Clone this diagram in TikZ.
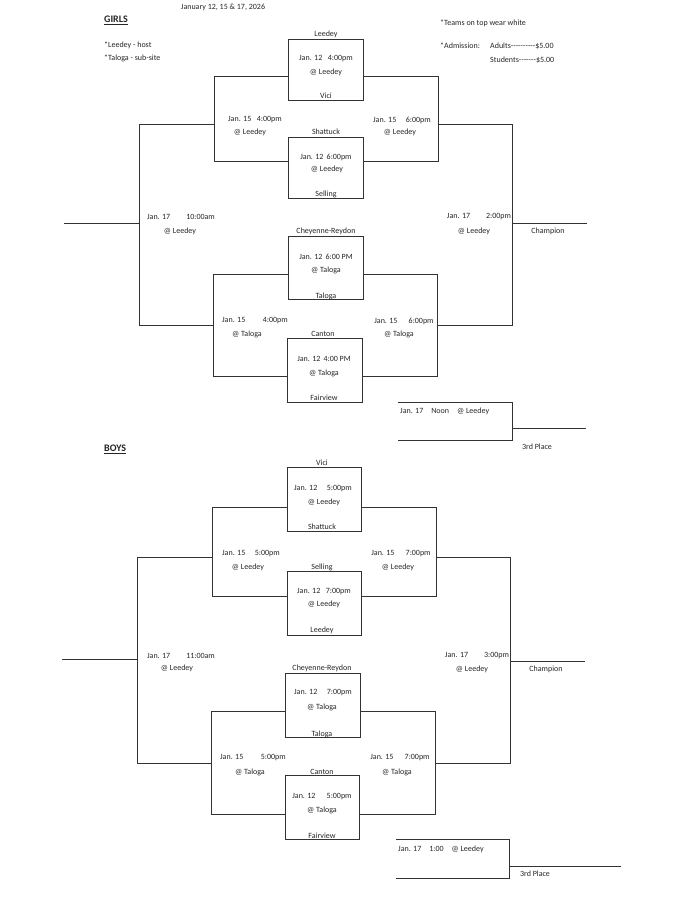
\documentclass[tikz,border=0pt]{standalone}
\usepackage{fontspec}
\setmainfont{Carlito}
\begin{document}
\begin{tikzpicture}[x=1pt,y=-1pt,
  ln/.style={draw=black!80, line width=0.8pt},
  box/.style={ln, rectangle, inner sep=0pt},
  t/.style={inner sep=0pt, font=\fontsize{8}{9}\selectfont, text=black!85},
  tl/.style={t, anchor=west}]
\useasboundingbox (0,0) rectangle (689,899);
\fill[white] (0,0) rectangle (689,899);

% ---------- header ----------
\node[t] (hdate) at (223,7) {January 12, 15 \& 17, 2026};
\node[tl, font=\fontsize{10}{11}\selectfont\bfseries] (hgirls) at (104,20) {\underline{GIRLS}};
\node[tl] (hhost) at (104,45) {*Leedey - host};
\node[tl] (hsub) at (104,58) {*Taloga - sub-site};
\node[tl] (hteams) at (440,23) {*Teams on top wear white};
\node[tl] (hadm) at (440,46) {*Admission:};
\node[tl] (hadult) at (490,46) {Adults{-}{-}{-}{-}{-}{-}{-}{-}{-}{-}\$5.00};
\node[tl] (hstud) at (490,60) {Students{-}{-}{-}{-}{-}{-}{-}\$5.00};

% ---------- GIRLS boxes ----------
\node[box, minimum width=75pt, minimum height=61pt] (g1) at (325.5,69.5) {};
\node[box, minimum width=75pt, minimum height=61pt] (g2) at (325.5,167.5) {};
\node[box, minimum width=75pt, minimum height=63pt] (g3) at (325.5,267.5) {};
\node[box, minimum width=75pt, minimum height=64pt] (g4) at (325,370) {};

\node[t] (g1a) at (326,34) {Leedey};
\node[t] (g1b) at (326,59) {Jan. 12\hspace{0.7em}4:00pm};
\node[t] (g1c) at (326,72) {@ Leedey};
\node[t] (g1d) at (326,96) {Vici};
\node[t] (g2a) at (326,132) {Shattuck};
\node[t] (g2b) at (326,157) {Jan. 12\hspace{0.4em}6:00pm};
\node[t] (g2c) at (327,169) {@ Leedey};
\node[t] (g2d) at (326,194) {Selling};
\node[t] (g3a) at (326,231) {Cheyenne-Reydon};
\node[t] (g3b) at (326,257) {Jan. 12\hspace{0.4em}6:00 PM};
\node[t] (g3c) at (326,270) {@ Taloga};
\node[t] (g3d) at (326,296) {Taloga};
\node[t] (g4a) at (323,334) {Canton};
\node[t] (g4b) at (324,359) {Jan. 12\hspace{0.4em}4:00 PM};
\node[t] (g4c) at (324,373) {@ Taloga};
\node[t] (g4d) at (324,398) {Fairview};

\node[t] (gq1a) at (255,120) {Jan. 15\hspace{0.7em}4:00pm};
\node[t] (gq1b) at (250,132) {@ Leedey};
\node[t] (gq2a) at (402,120) {Jan. 15\hspace{1.2em}6:00pm};
\node[t] (gq2b) at (400,132) {@ Leedey};
\node[t] (gq3a) at (255,321) {Jan. 15\hspace{2.2em}4:00pm};
\node[t] (gq3b) at (247,334) {@ Taloga};
\node[t] (gq4a) at (404,321) {Jan. 15\hspace{1.4em}6:00pm};
\node[t] (gq4b) at (399,334) {@ Taloga};
\node[t] (gs1a) at (181,217) {Jan. 17\hspace{2em}10:00am};
\node[t] (gs1b) at (180,231) {@ Leedey};
\node[t] (gs2a) at (479,217) {Jan. 17\hspace{2em}2:00pm};
\node[t] (gs2b) at (474,231) {@ Leedey};
\node[t] (gch) at (548,231) {Champion};
\node[tl] (g3p) at (400,411) {Jan. 17\hspace{1em}Noon\hspace{1em}@ Leedey};
\node[t] (g3pl) at (537,447) {3rd Place};

% GIRLS bracket coordinates
\coordinate (gUtl) at (214,76);  \coordinate (gUtr) at (438,76);
\coordinate (gUbl) at (214,161); \coordinate (gUbr) at (438,161);
\coordinate (gUml) at (214,124); \coordinate (gUmr) at (438,124);
\coordinate (gLtl) at (213,274); \coordinate (gLtr) at (437,274);
\coordinate (gLbl) at (213,376); \coordinate (gLbr) at (437,376);
\coordinate (gLml) at (213,325); \coordinate (gLmr) at (437,325);
\coordinate (gOtl) at (139,124); \coordinate (gObl) at (139,325);
\coordinate (gOtr) at (512,124); \coordinate (gObr) at (512,325);
\coordinate (gOml) at (139,223); \coordinate (gOmr) at (512,223);
\coordinate (gTail) at (64,223); \coordinate (gChamp) at (587,223);
\coordinate (g3tl) at (398,402); \coordinate (g3tr) at (512,402);
\coordinate (g3bl) at (398,440); \coordinate (g3br) at (512,440);
\coordinate (g3m) at (512,428);  \coordinate (g3end) at (586,428);

\draw[ln] (g1.west |- gUtl) -- (gUtl) -- (gUbl) -- (g2.west |- gUbl);
\draw[ln] (g1.east |- gUtr) -- (gUtr) -- (gUbr) -- (g2.east |- gUbr);
\draw[ln] (g3.west |- gLtl) -- (gLtl) -- (gLbl) -- (g4.west |- gLbl);
\draw[ln] (g3.east |- gLtr) -- (gLtr) -- (gLbr) -- (g4.east |- gLbr);
\draw[ln] (gUml) -- (gOtl) -- (gObl) -- (gLml);
\draw[ln] (gUmr) -- (gOtr) -- (gObr) -- (gLmr);
\draw[ln] (gOml) -- (gTail);
\draw[ln] (gOmr) -- (gChamp);
\draw[ln] (g3tl) -- (g3tr) -- (g3br) -- (g3bl);
\draw[ln] (g3m) -- (g3end);

% ---------- BOYS ----------
\node[tl, font=\fontsize{10}{11}\selectfont\bfseries] (hboys) at (104,449) {\underline{BOYS}};

\node[box, minimum width=74pt, minimum height=64pt] (b5) at (324,499) {};
\node[box, minimum width=74pt, minimum height=64pt] (b6) at (324,603) {};
\node[box, minimum width=75pt, minimum height=64pt] (b7) at (322.5,705) {};
\node[box, minimum width=74pt, minimum height=64pt] (b8) at (322,807) {};

\node[t] (b5a) at (322,463) {Vici};
\node[t] (b5b) at (323,489) {Jan. 12\hspace{1.2em}5:00pm};
\node[t] (b5c) at (324,502) {@ Leedey};
\node[t] (b5d) at (322,527) {Shattuck};
\node[t] (b6a) at (322,567) {Selling};
\node[t] (b6b) at (324,592) {Jan. 12\hspace{0.7em}7:00pm};
\node[t] (b6c) at (324,604) {@ Leedey};
\node[t] (b6d) at (322,630) {Leedey};
\node[t] (b7a) at (322,668) {Cheyenne-Reydon};
\node[t] (b7b) at (323,693) {Jan. 12\hspace{1.2em}7:00pm};
\node[t] (b7c) at (322,707) {@ Taloga};
\node[t] (b7d) at (322,734) {Taloga};
\node[t] (b8a) at (322,772) {Canton};
\node[t] (b8b) at (322,797) {Jan. 12\hspace{1.4em}5:00pm};
\node[t] (b8c) at (322,810) {@ Taloga};
\node[t] (b8d) at (322,836) {Fairview};

\node[t] (bq1a) at (251,554) {Jan. 15\hspace{1.2em}5:00pm};
\node[t] (bq1b) at (248,567) {@ Leedey};
\node[t] (bq2a) at (401,554) {Jan. 15\hspace{1.4em}7:00pm};
\node[t] (bq2b) at (398,567) {@ Leedey};
\node[t] (bq3a) at (253,758) {Jan. 15\hspace{2.2em}5:00pm};
\node[t] (bq3b) at (250,772) {@ Taloga};
\node[t] (bq4a) at (400,758) {Jan. 15\hspace{1.4em}7:00pm};
\node[t] (bq4b) at (397,772) {@ Taloga};
\node[t] (bs1a) at (181,656) {Jan. 17\hspace{2em}11:00am};
\node[t] (bs1b) at (177,668) {@ Leedey};
\node[t] (bs2a) at (477,656) {Jan. 17\hspace{2em}3:00pm};
\node[t] (bs2b) at (472,669) {@ Leedey};
\node[t] (bch) at (546,669) {Champion};
\node[tl] (b3p) at (398,849) {Jan. 17\hspace{1em}1:00\hspace{1em}@ Leedey};
\node[t] (b3pl) at (535,874) {3rd Place};

\coordinate (bUtl) at (212,507); \coordinate (bUtr) at (436,507);
\coordinate (bUbl) at (212,596); \coordinate (bUbr) at (436,596);
\coordinate (bUml) at (212,557); \coordinate (bUmr) at (436,557);
\coordinate (bLtl) at (211,711); \coordinate (bLtr) at (435,711);
\coordinate (bLbl) at (211,814); \coordinate (bLbr) at (435,814);
\coordinate (bLml) at (211,763); \coordinate (bLmr) at (435,763);
\coordinate (bOtl) at (137,557); \coordinate (bObl) at (137,763);
\coordinate (bOtr) at (510,557); \coordinate (bObr) at (510,763);
\coordinate (bOml) at (137,659); \coordinate (bOmr) at (510,661);
\coordinate (bTail) at (62,659); \coordinate (bChamp) at (585,661);
\coordinate (b3tl) at (396,839); \coordinate (b3tr) at (509,839);
\coordinate (b3bl) at (396,878); \coordinate (b3br) at (509,878);
\coordinate (b3m) at (509,866);  \coordinate (b3end) at (621,866);

\draw[ln] (b5.west |- bUtl) -- (bUtl) -- (bUbl) -- (b6.west |- bUbl);
\draw[ln] (b5.east |- bUtr) -- (bUtr) -- (bUbr) -- (b6.east |- bUbr);
\draw[ln] (b7.west |- bLtl) -- (bLtl) -- (bLbl) -- (b8.west |- bLbl);
\draw[ln] (b7.east |- bLtr) -- (bLtr) -- (bLbr) -- (b8.east |- bLbr);
\draw[ln] (bUml) -- (bOtl) -- (bObl) -- (bLml);
\draw[ln] (bUmr) -- (bOtr) -- (bObr) -- (bLmr);
\draw[ln] (bOml) -- (bTail);
\draw[ln] (bOmr) -- (bChamp);
\draw[ln] (b3tl) -- (b3tr) -- (b3br) -- (b3bl);
\draw[ln] (b3m) -- (b3end);
\end{tikzpicture}
\end{document}
